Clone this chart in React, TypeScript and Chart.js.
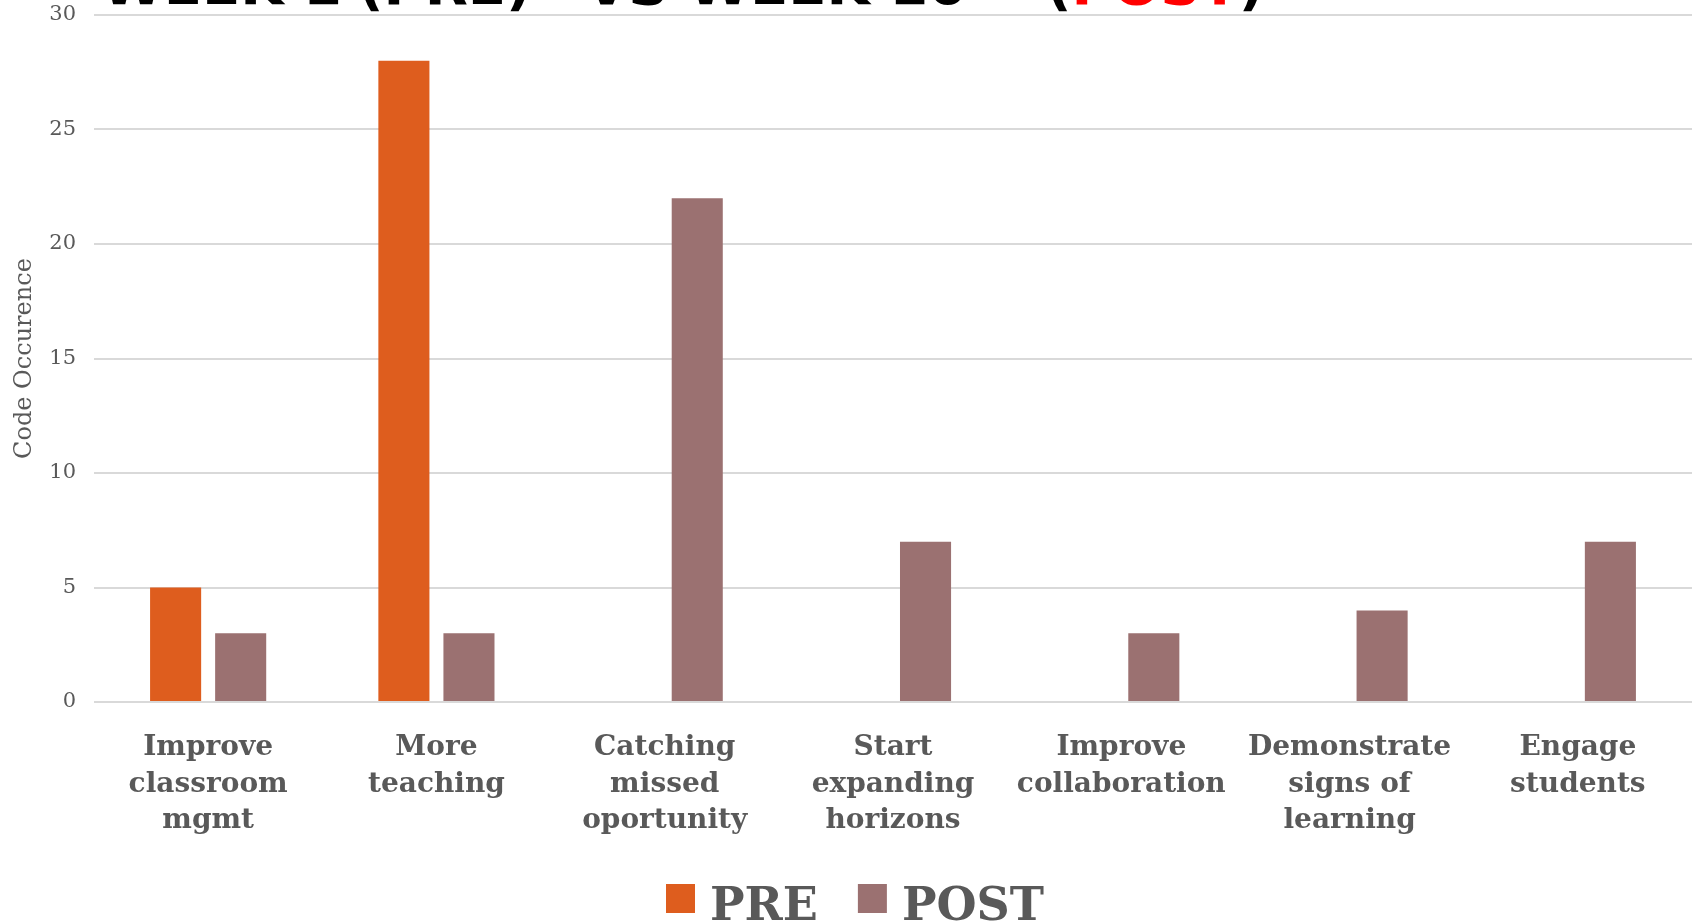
import React, { useEffect, useRef } from 'react';
import { Chart, registerables } from 'chart.js';

Chart.register(...registerables);

const categories: string[][] = [
  ['Improve', 'classroom', 'mgmt'],
  ['More', 'teaching'],
  ['Catching', 'missed', 'oportunity'],
  ['Start', 'expanding', 'horizons'],
  ['Improve', 'collaboration'],
  ['Demonstrate', 'signs of', 'learning'],
  ['Engage', 'students'],
];
const preValues = [5, 28, 0, 0, 0, 0, 0];
const postValues = [3, 3, 22, 7, 3, 4, 7];
const seriesNames = ['PRE', 'POST'];
const seriesColors = ['#DE5D1E', '#9B7171'];
const yMin = 0;
const yMax = 30;
const yStep = 5;
const yAxisTitle = 'Code Occurence';
const titleParts = ['WEEK 1', '(PRE)', 'VS WEEK 10', '(', 'POST', ')'];

const textGrey = '#595959';

const cutTitlePlugin = {
  id: 'cutTitle',
  afterDraw(chart: any) {
    const ctx = chart.ctx;
    ctx.save();
    ctx.font = 'bold 56px "DejaVu Sans"';
    ctx.textBaseline = 'alphabetic';
    const base = 4;
    ctx.fillStyle = '#000000';
    ctx.textAlign = 'right';
    ctx.fillText(titleParts[0], 342, base);
    ctx.textAlign = 'left';
    ctx.fillText(titleParts[1], 358, base);
    ctx.fillText(titleParts[2], 585, base);
    let x = 1046;
    ctx.fillText(titleParts[3], x, base);
    x += ctx.measureText(titleParts[3]).width;
    ctx.fillStyle = '#FF0000';
    ctx.fillText(titleParts[4], x, base);
    x += ctx.measureText(titleParts[4]).width;
    ctx.fillStyle = '#000000';
    ctx.fillText(titleParts[5], x, base);
    ctx.restore();
  },
};

const legendPlugin = {
  id: 'slideLegend',
  afterDraw(chart: any) {
    const ctx = chart.ctx;
    const boxSize = 29;
    const boxTextGap = 15;
    const itemGap = 40;
    const startX = 666;
    const boxTop = 884;
    const baseline = 920;
    ctx.save();
    ctx.font = 'bold 46px "DejaVu Serif"';
    ctx.textBaseline = 'alphabetic';
    ctx.textAlign = 'left';
    let x = startX;
    chart.data.datasets.forEach((ds: any) => {
      ctx.fillStyle = ds.backgroundColor;
      ctx.fillRect(x, boxTop, boxSize, boxSize);
      x += boxSize + boxTextGap;
      ctx.fillStyle = textGrey;
      ctx.fillText(ds.label, x, baseline);
      x += ctx.measureText(ds.label).width + itemGap;
    });
    ctx.restore();
  },
};

export default function App() {
  const canvasRef = useRef<HTMLCanvasElement | null>(null);

  useEffect(() => {
    if (!canvasRef.current) return;
    const chart = new Chart(canvasRef.current, {
      type: 'bar',
      data: {
        labels: categories,
        datasets: [
          {
            label: seriesNames[0],
            data: preValues,
            backgroundColor: seriesColors[0],
            borderWidth: 0,
            categoryPercentage: 0.57,
            barPercentage: 0.785,
          },
          {
            label: seriesNames[1],
            data: postValues,
            backgroundColor: seriesColors[1],
            borderWidth: 0,
            categoryPercentage: 0.57,
            barPercentage: 0.785,
          },
        ],
      },
      options: {
        animation: false,
        responsive: false,
        layout: { padding: { top: 15, left: 0, right: 0, bottom: 0 } },
        plugins: {
          tooltip: { enabled: false },
          title: { display: false },
          legend: { display: false },
        },
        scales: {
          x: {
            grid: { display: false, drawTicks: false },
            border: { display: false },
            ticks: {
              color: textGrey,
              font: { family: '"DejaVu Serif"', weight: 'bold', size: 28, lineHeight: 1.3 },
              padding: 28,
              maxRotation: 0,
              autoSkip: false,
            },
            afterFit: (s: any) => {
              s.height = 219;
              s.paddingLeft = 0;
              s.paddingRight = 0;
            },
          },
          y: {
            min: yMin,
            max: yMax,
            ticks: {
              stepSize: yStep,
              color: textGrey,
              font: { family: '"DejaVu Serif"', size: 21 },
              padding: 18,
            },
            grid: { color: '#D9D9D9', lineWidth: 2, drawTicks: false },
            border: { display: false },
            title: {
              display: true,
              text: yAxisTitle,
              color: textGrey,
              font: { family: '"DejaVu Serif"', size: 24 },
              padding: { top: 10, bottom: 0 },
            },
            afterFit: (s: any) => {
              s.width = 94;
              s.paddingTop = 0;
              s.paddingBottom = 0;
            },
          },
        },
      },
      plugins: [cutTitlePlugin, legendPlugin],
    });
    return () => chart.destroy();
  }, []);

  return (
    <div style={{ position: 'fixed', left: 0, top: 0, width: 1692, height: 921, background: '#ffffff' }}>
      <canvas ref={canvasRef} width={1692} height={921} style={{ width: 1692, height: 921, display: 'block' }} />
    </div>
  );
}
